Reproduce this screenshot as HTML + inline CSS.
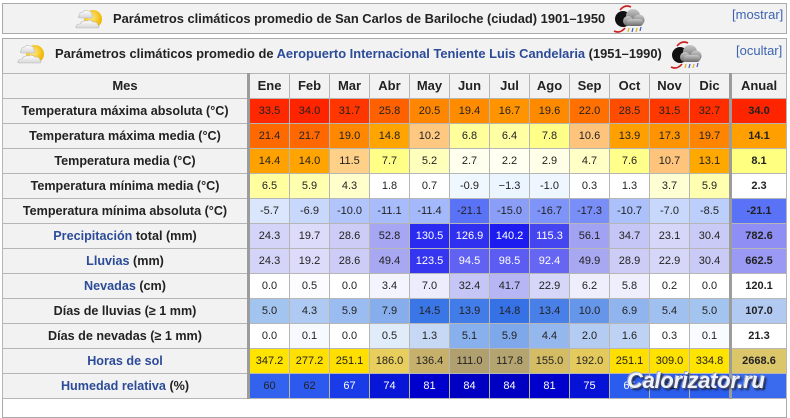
<!DOCTYPE html>
<html><head><meta charset="utf-8">
<style>
*{margin:0;padding:0;box-sizing:border-box}
html,body{width:790px;height:402px;overflow:hidden;background:#fff;font-family:"Liberation Sans",Arial,sans-serif;color:#222}
.a{position:absolute}
.box1{left:2px;top:3px;width:785px;height:31px;border:1px solid #aaa;background:#f2f2f2}
.box2{left:2px;top:38px;width:785px;height:380px;border:1px solid #aaa;background:#fff}
.cap2{left:3px;top:39px;width:783px;height:34px;background:#f2f2f2}
.grid{left:2px;top:73px;width:785px;height:326px;background:#b6b6b6}
.thick{top:73px;width:3px;height:326px;background:#9c9c9c}
.ttl{font-weight:bold;font-size:12.9px;line-height:15px;white-space:nowrap;color:#222}
.tog{font-size:13px;line-height:15px;color:#3d63b0;white-space:nowrap}
.lk{color:#2c4b98}
.row{position:absolute;left:0;width:790px;height:24px}
.row>div{position:absolute;top:0;height:24px;line-height:24px;width:39px;text-align:center;font-size:11px;white-space:nowrap}
.row>div:nth-child(1){left:3px;width:244px;background:#f2f2f2;font-weight:bold;font-size:12.6px}
.row>div:nth-child(2){left:250px}
.row>div:nth-child(3){left:290px}
.row>div:nth-child(4){left:330px}
.row>div:nth-child(5){left:370px}
.row>div:nth-child(6){left:410px}
.row>div:nth-child(7){left:450px}
.row>div:nth-child(8){left:490px}
.row>div:nth-child(9){left:530px}
.row>div:nth-child(10){left:570px}
.row>div:nth-child(11){left:610px}
.row>div:nth-child(12){left:650px}
.row>div:nth-child(13){left:690px}
.row>div:nth-child(14){left:732px;width:54px;font-weight:bold}
.hdr>div{background:#f2f2f2;font-weight:bold;font-size:13px !important}
.w{color:#fff}
.wm{left:627px;top:369px;font-size:22px;line-height:24px;font-weight:bold;font-style:italic;letter-spacing:-0.3px;color:#eef2ff;white-space:nowrap;
text-shadow:1px 1px 0 #4a5070,2px 2px 2px rgba(0,0,0,.7),-1px -1px 0 #9aa4c0}
</style></head><body>

<div class="a box1"></div>
<svg class="a" style="left:73px;top:7px" width="34" height="24" viewBox="0 0 34 24">
<defs><radialGradient id="sg" cx="0.4" cy="0.4" r="0.6"><stop offset="0" stop-color="#ffec80"/><stop offset="1" stop-color="#f0b400"/></radialGradient>
<linearGradient id="cg" x1="0" y1="0" x2="0" y2="1"><stop offset="0" stop-color="#fff"/><stop offset="1" stop-color="#d6d6d6"/></linearGradient></defs>
<circle cx="20" cy="12" r="9" fill="url(#sg)"/>
<g fill="url(#cg)" stroke="#b8b8b8" stroke-width="0.6">
<path d="M6 9 q0-4 4-4 q2-3 5-1 q4 0 4 4 q2 1 0 3 h-12 q-3-1-1-2z"/>
<path d="M3 20 q0-3 4-3 q2-4 7-3 q3-2 6 1 q5 0 5 3 q2 2 0 3 h-21 q-2-1-1-1z"/>
</g></svg>
<div class="a ttl" style="left:113px;top:11px">Parámetros climáticos promedio de San Carlos de Bariloche (ciudad) 1901–1950</div>
<svg class="a" style="left:610px;top:4px" width="36" height="30" viewBox="0 0 36 30">
<defs><linearGradient id="gc" x1="0" y1="0" x2="0" y2="1"><stop offset="0" stop-color="#c8c8c8"/><stop offset="1" stop-color="#6a6a6a"/></linearGradient></defs>
<circle cx="13" cy="15" r="8" fill="#111"/>
<path d="M10 6 q5-6 11-3" stroke="#cc2020" stroke-width="1.6" fill="none"/>
<path d="M15 24 q-5 6 -11 3" stroke="#cc2020" stroke-width="1.6" fill="none"/>
<g fill="url(#gc)"><circle cx="23" cy="12" r="7"/><circle cx="29" cy="16" r="5.5"/><circle cx="18" cy="17" r="5"/><rect x="17" y="15" width="16" height="7" rx="3"/></g>
<g stroke-width="1.2"><path d="M19 24 l-1 4" stroke="#e0b020"/><path d="M23 24 l-1 4" stroke="#4060c0"/><path d="M27 24 l-1 4" stroke="#e0b020"/><path d="M31 23 l-1 4" stroke="#4060c0"/></g>
</svg>
<div class="a tog" style="left:732px;top:7px">[mostrar]</div>

<div class="a box2"></div>
<div class="a cap2"></div>
<svg class="a" style="left:15px;top:42px" width="34" height="24" viewBox="0 0 34 24">
<circle cx="20" cy="12" r="9" fill="url(#sg)"/>
<g fill="url(#cg)" stroke="#b8b8b8" stroke-width="0.6">
<path d="M6 9 q0-4 4-4 q2-3 5-1 q4 0 4 4 q2 1 0 3 h-12 q-3-1-1-2z"/>
<path d="M3 20 q0-3 4-3 q2-4 7-3 q3-2 6 1 q5 0 5 3 q2 2 0 3 h-21 q-2-1-1-1z"/>
</g></svg>
<div class="a ttl" style="left:55px;top:46px">Parámetros climáticos promedio de <span class="lk">Aeropuerto Internacional Teniente Luis Candelaria</span> (1951–1990)</div>
<svg class="a" style="left:667px;top:40px" width="36" height="30" viewBox="0 0 36 30">
<circle cx="13" cy="15" r="8" fill="#111"/>
<path d="M10 6 q5-6 11-3" stroke="#cc2020" stroke-width="1.6" fill="none"/>
<path d="M15 24 q-5 6 -11 3" stroke="#cc2020" stroke-width="1.6" fill="none"/>
<g fill="url(#gc)"><circle cx="23" cy="12" r="7"/><circle cx="29" cy="16" r="5.5"/><circle cx="18" cy="17" r="5"/><rect x="17" y="15" width="16" height="7" rx="3"/></g>
<g stroke-width="1.2"><path d="M19 24 l-1 4" stroke="#e0b020"/><path d="M23 24 l-1 4" stroke="#4060c0"/><path d="M27 24 l-1 4" stroke="#e0b020"/><path d="M31 23 l-1 4" stroke="#4060c0"/></g>
</svg>
<div class="a tog" style="left:736px;top:43px">[ocultar]</div>

<div class="a grid"></div>
<div class="a thick" style="left:247px"></div>
<div class="a thick" style="left:729px"></div>

<div class="row hdr" style="top:74px"><div>Mes</div><div>Ene</div><div>Feb</div><div>Mar</div><div>Abr</div><div>May</div><div>Jun</div><div>Jul</div><div>Ago</div><div>Sep</div><div>Oct</div><div>Nov</div><div>Dic</div><div>Anual</div></div>

<div class="row" style="top:99px"><div>Temperatura máxima absoluta (°C)</div>
<div style="background:#ff2800">33.5</div><div style="background:#ff2400">34.0</div><div style="background:#ff3600">31.7</div><div style="background:#ff6000">25.8</div><div style="background:#ff8600">20.5</div><div style="background:#ff8c00">19.4</div><div style="background:#ff9400">16.7</div><div style="background:#ff8a00">19.6</div><div style="background:#ff7000">22.0</div><div style="background:#ff4c00">28.5</div><div style="background:#ff3800">31.5</div><div style="background:#ff2e00">32.7</div><div style="background:#ff2400">34.0</div></div>

<div class="row" style="top:124px"><div>Temperatura máxima media (°C)</div>
<div style="background:#ff6a00">21.4</div><div style="background:#ff6800">21.7</div><div style="background:#ff8800">19.0</div><div style="background:#ffa400">14.8</div><div style="background:#ffc880">10.2</div><div style="background:#ffff9c">6.8</div><div style="background:#ffffa4">6.4</div><div style="background:#ffff88">7.8</div><div style="background:#ffc47c">10.6</div><div style="background:#ffa000">13.9</div><div style="background:#ff9400">17.3</div><div style="background:#ff8400">19.7</div><div style="background:#ffa000">14.1</div></div>

<div class="row" style="top:149px"><div>Temperatura media (°C)</div>
<div style="background:#ffa200">14.4</div><div style="background:#ffa400">14.0</div><div style="background:#ffd088">11.5</div><div style="background:#ffff88">7.7</div><div style="background:#ffffbc">5.2</div><div style="background:#ffffee">2.7</div><div style="background:#fffff2">2.2</div><div style="background:#ffffe8">2.9</div><div style="background:#ffffc6">4.7</div><div style="background:#ffff8a">7.6</div><div style="background:#ffc47c">10.7</div><div style="background:#ffa800">13.1</div><div style="background:#ffff80">8.1</div></div>

<div class="row" style="top:174px"><div>Temperatura mínima media (°C)</div>
<div style="background:#ffffa0">6.5</div><div style="background:#ffffb0">5.9</div><div style="background:#ffffcc">4.3</div><div style="background:#ffffff">1.8</div><div style="background:#ffffff">0.7</div><div style="background:#f0f8ff">-0.9</div><div style="background:#ebf5ff">−1.3</div><div style="background:#eef7ff">-1.0</div><div style="background:#ffffff">0.3</div><div style="background:#ffffff">1.3</div><div style="background:#ffffd4">3.7</div><div style="background:#ffffb0">5.9</div><div style="background:#ffffff">2.3</div></div>

<div class="row" style="top:199px"><div>Temperatura mínima absoluta (°C)</div>
<div style="background:#dae6fc">-5.7</div><div style="background:#c8d8fc">-6.9</div><div style="background:#b2c4fc">-10.0</div><div style="background:#a8bcfc">-11.1</div><div style="background:#a4b8fc">-11.4</div><div style="background:#5a72f6">-21.1</div><div style="background:#8a9ef8">-15.0</div><div style="background:#7e94f8">-16.7</div><div style="background:#7a8ef8">-17.3</div><div style="background:#acc0fc">-10.7</div><div style="background:#c8d8fc">-7.0</div><div style="background:#bccefc">-8.5</div><div style="background:#5a72f6">-21.1</div></div>

<div class="row" style="top:224px"><div><span class="lk">Precipitación</span> total (mm)</div>
<div style="background:#d4d4f8">24.3</div><div style="background:#dcdcfa">19.7</div><div style="background:#ccccf6">28.6</div><div style="background:#a6a6f2">52.8</div><div class="w" style="background:#2a2af0">130.5</div><div class="w" style="background:#3030f0">126.9</div><div class="w" style="background:#1c1cf0">140.2</div><div class="w" style="background:#4646f0">115.3</div><div style="background:#a2a2f2">56.1</div><div style="background:#c6c6f6">34.7</div><div style="background:#d6d6f8">23.1</div><div style="background:#cacaf6">30.4</div><div style="background:#8e8ef4">782.6</div></div>

<div class="row" style="top:249px"><div><span class="lk">Lluvias</span> (mm)</div>
<div style="background:#d4d4f8">24.3</div><div style="background:#dcdcfa">19.2</div><div style="background:#ccccf6">28.6</div><div style="background:#a8a8f2">49.4</div><div class="w" style="background:#3636f0">123.5</div><div class="w" style="background:#6262f2">94.5</div><div class="w" style="background:#5c5cf2">98.5</div><div class="w" style="background:#6666f2">92.4</div><div style="background:#a8a8f2">49.9</div><div style="background:#ccccf6">28.9</div><div style="background:#d6d6f8">22.9</div><div style="background:#cacaf6">30.4</div><div style="background:#9a9af4">662.5</div></div>

<div class="row" style="top:274px"><div><span class="lk">Nevadas</span> (cm)</div>
<div style="background:#ffffff">0.0</div><div style="background:#fcfcff">0.5</div><div style="background:#ffffff">0.0</div><div style="background:#f4f4fe">3.4</div><div style="background:#ececfc">7.0</div><div style="background:#c6c6f6">32.4</div><div style="background:#b6b6f4">41.7</div><div style="background:#d6d6f8">22.9</div><div style="background:#eeeefc">6.2</div><div style="background:#eeeefc">5.8</div><div style="background:#ffffff">0.2</div><div style="background:#ffffff">0.0</div><div style="background:#ffffff">120.1</div></div>

<div class="row" style="top:299px"><div>Días de lluvias (≥ 1 mm)</div>
<div style="background:#a4c4f0">5.0</div><div style="background:#aecaf2">4.3</div><div style="background:#9abcf0">5.9</div><div style="background:#86aeec">7.9</div><div style="background:#3a76e6">14.5</div><div style="background:#427ce8">13.9</div><div style="background:#3672e6">14.8</div><div style="background:#4880e8">13.4</div><div style="background:#6696ea">10.0</div><div style="background:#90b4ee">6.9</div><div style="background:#a0c0f0">5.4</div><div style="background:#a4c4f0">5.0</div><div style="background:#b2caf2">107.0</div></div>

<div class="row" style="top:324px"><div>Días de nevadas (≥ 1 mm)</div>
<div style="background:#ffffff">0.0</div><div style="background:#f6faff">0.1</div><div style="background:#ffffff">0.0</div><div style="background:#e0ecfa">0.5</div><div style="background:#c6d8f4">1.3</div><div style="background:#88b0ec">5.1</div><div style="background:#7ea8ea">5.9</div><div style="background:#94b8ee">4.4</div><div style="background:#b4ccf2">2.0</div><div style="background:#bed2f4">1.6</div><div style="background:#ffffff">0.3</div><div style="background:#f8fbff">0.1</div><div style="background:#ffffff">21.3</div></div>

<div class="row" style="top:349px"><div><span class="lk">Horas de sol</span></div>
<div style="background:#ffe400">347.2</div><div style="background:#ffe000">277.2</div><div style="background:#ffdf00">251.1</div><div style="background:#e8ce5c">186.0</div><div style="background:#c6b06c">136.4</div><div style="background:#b0a070">111.0</div><div style="background:#b4a470">117.8</div><div style="background:#d4bc64">155.0</div><div style="background:#e4ca5c">192.0</div><div style="background:#ffdf00">251.1</div><div style="background:#ffe200">309.0</div><div style="background:#ffe400">334.8</div><div style="background:#dcc66a">2668.6</div></div>

<div class="row" style="top:374px"><div><span class="lk">Humedad relativa</span> (%)</div>
<div style="background:#3262ee">60</div><div style="background:#2c5aee">62</div><div class="w" style="background:#1a3ce8">67</div><div class="w" style="background:#0816d8">74</div><div class="w" style="background:#0000cc">81</div><div class="w" style="background:#0000c2">84</div><div class="w" style="background:#0000c2">84</div><div class="w" style="background:#0000cc">81</div><div class="w" style="background:#0612d6">75</div><div class="w" style="background:#2a5cee">65</div><div style="background:#2c5eee">62</div><div style="background:#2c5eee">62</div><div style="background:#3a6aee">72</div></div>

<div class="a wm">Calorizator.ru</div>
</body></html>
